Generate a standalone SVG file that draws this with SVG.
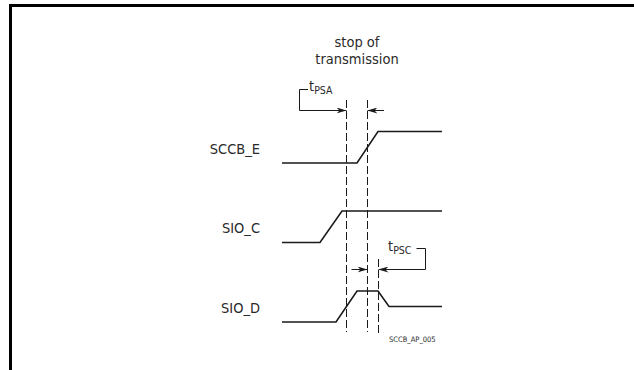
<svg xmlns="http://www.w3.org/2000/svg" width="634" height="370" viewBox="0 0 634 370">
<style>
.frame{fill:none;stroke:#000;stroke-width:3}
.sig{fill:none;stroke:#1a1a1a;stroke-width:1.6;stroke-linejoin:miter}
.dash{fill:none;stroke:#1a1a1a;stroke-width:1;stroke-dasharray:8 3}
.ln{fill:none;stroke:#1a1a1a;stroke-width:1}
.arr{fill:none;stroke:#1a1a1a;stroke-width:1;marker-end:url(#ah)}
text{font-family:"DejaVu Sans Condensed","DejaVu Sans",sans-serif;fill:#2a2a2a}
.lbl{font-size:14.5px;text-anchor:end}
.ttl{font-size:14.5px;text-anchor:middle}
.t{font-size:14.5px}
.sub{font-size:10.5px}
.id{font-size:7.5px}
</style>
<defs>
<marker id="ah" viewBox="0 0 10 6" refX="10" refY="3" markerWidth="10" markerHeight="6" markerUnits="userSpaceOnUse" orient="auto">
<path d="M0,0 L10,3 L0,6 L3,3 Z" fill="#1a1a1a"/>
</marker>
</defs>
<path class="frame" d="M10.5,370 V5.5 H634"/>
<g id="title"><text class="ttl" x="357" y="47">stop of</text><text class="ttl" x="357" y="64">transmission</text></g>
<g id="SCCB_E"><text class="lbl" x="260" y="154">SCCB_E</text><path class="sig" d="M282,163 H357 L378,131.5 H442"/></g>
<g id="SIO_C"><text class="lbl" x="260" y="233">SIO_C</text><path class="sig" d="M282,242.5 H320 L342,211 H442"/></g>
<g id="SIO_D"><text class="lbl" x="260" y="313">SIO_D</text><path class="sig" d="M282,322 H336 L357,291 H378 L389,306.5 H442"/></g>
<g id="tPSA"><text class="t" x="309" y="91">t<tspan class="sub" dy="3">PSA</tspan></text></g>
<g id="tPSC"><text class="t" x="388" y="251">t<tspan class="sub" dy="3">PSC</tspan></text></g>
<text class="id" x="389" y="342">SCCB_AP_005</text>
<g id="connectors">
<path class="dash" d="M346.5,100 V332"/>
<path class="dash" d="M367.5,100 V332"/>
<path class="dash" d="M378.5,259 V333"/>
<path class="ln" d="M308,89.5 H299.5 V110.5"/>
<path class="arr" d="M299.5,110.5 H346.5"/>
<path class="arr" d="M384,110.5 H367.5"/>
<path class="ln" d="M416.5,248.5 H425.5 V269.5"/>
<path class="arr" d="M425.5,269.5 H378.5"/>
<path class="arr" d="M351.5,269.5 H367.5"/>
</g>
</svg>
